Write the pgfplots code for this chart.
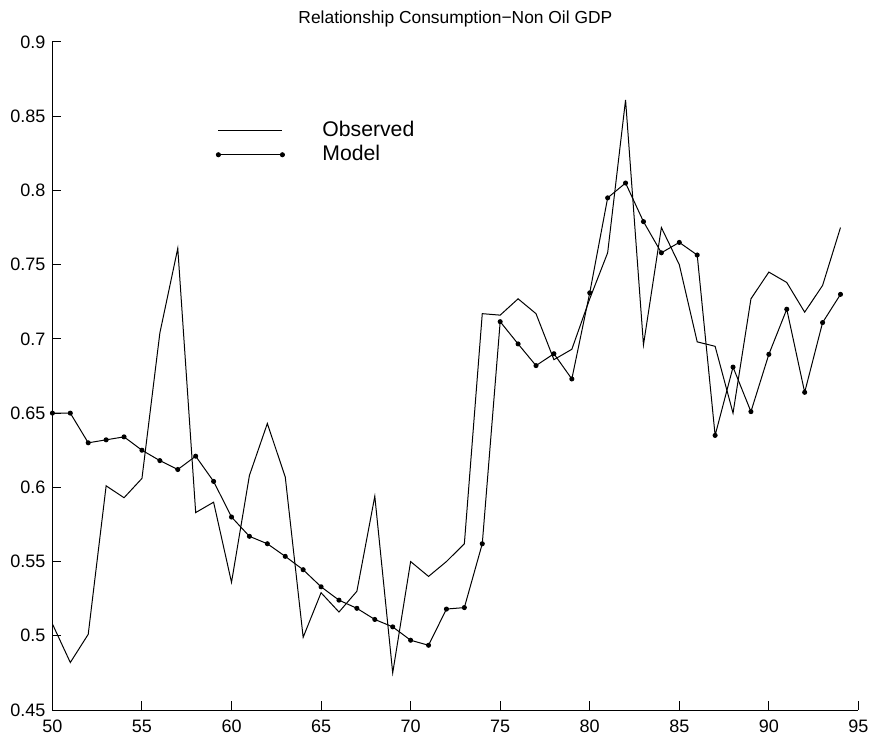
\documentclass[border=0pt]{standalone}
\usepackage{fontspec}
\setmainfont{Liberation Sans}
\usepackage{pgfplots}
\pgfplotsset{compat=1.18}

% Observed ratio and model fit, 1950--1994
\pgfplotstableread{
year obs
50 0.508
51 0.482
52 0.501
53 0.601
54 0.593
55 0.606
56 0.704
57 0.761
58 0.583
59 0.590
60 0.536
61 0.608
62 0.643
63 0.607
64 0.499
65 0.529
66 0.516
67 0.530
68 0.594
69 0.475
70 0.550
71 0.540
72 0.550
73 0.562
74 0.717
75 0.716
76 0.727
77 0.717
78 0.686
79 0.693
80 0.727
81 0.758
82 0.861
83 0.696
84 0.775
85 0.750
86 0.698
87 0.695
88 0.650
89 0.727
90 0.745
91 0.738
92 0.718
93 0.736
94 0.775
}\observed

\pgfplotstableread{
year model
50 0.650
51 0.650
52 0.630
53 0.632
54 0.634
55 0.625
56 0.618
57 0.612
58 0.621
59 0.604
60 0.580
61 0.567
62 0.562
63 0.5535
64 0.5445
65 0.533
66 0.524
67 0.5185
68 0.511
69 0.506
70 0.497
71 0.4936
72 0.518
73 0.519
74 0.562
75 0.7116
76 0.6966
77 0.682
78 0.690
79 0.673
80 0.731
81 0.795
82 0.805
83 0.779
84 0.758
85 0.765
86 0.7565
87 0.635
88 0.681
89 0.651
90 0.6896
91 0.720
92 0.664
93 0.711
94 0.730
}\model

\begin{document}
\begin{tikzpicture}
\path[use as bounding box] (-26.2pt,-15pt) rectangle (409.8pt,355pt);
\begin{axis}[
  at={(0pt,0pt)}, anchor=south west,
  scale only axis,
  width=403pt, height=334pt,
  xmin=50, xmax=95, ymin=0.45, ymax=0.9,
  xtick={50,55,...,95},
  ytick={0.45,0.5,...,0.9},
  axis x line*=bottom, axis y line*=left,
  axis line style={-, line width=0.5pt},
  tick align=inside,
  major tick length=4.3pt,
  tick style={black, line width=0.5pt},
  /pgf/number format/assume math mode=true,
  /pgf/number format/precision=2,
  yticklabel style={/pgf/number format/fixed, font=\fontsize{9}{10}\selectfont},
  xticklabel style={font=\fontsize{9}{10}\selectfont, inner sep=1pt, yshift=-4pt},
  title={Relationship Consumption{\char"2212}Non Oil GDP},
  title style={font=\fontsize{8.7}{10}\selectfont, anchor=base, yshift=3.1pt},
  legend style={draw=none, fill=none, at={(axis cs:58.8,0.8523)}, anchor=north west,
    font=\fontsize{10.6}{12.5}\selectfont, row sep=-1pt, cells={anchor=west}},
  legend image code/.code={
    % short sample line, with blank room before the entry text
    \path[draw=none, fill=none] (0pt,0pt) (50pt,0pt);
    \draw[#1] plot coordinates {(0pt,0pt) (32pt,0pt)};
  },
]
\addplot[black, line width=0.5pt, mark=none] table[x=year, y=obs] {\observed};
\addlegendentry{Observed}
\addplot[black, line width=0.5pt, mark=*, mark size=1pt] table[x=year, y=model] {\model};
\addlegendentry{Model}
\end{axis}
\end{tikzpicture}
\end{document}
